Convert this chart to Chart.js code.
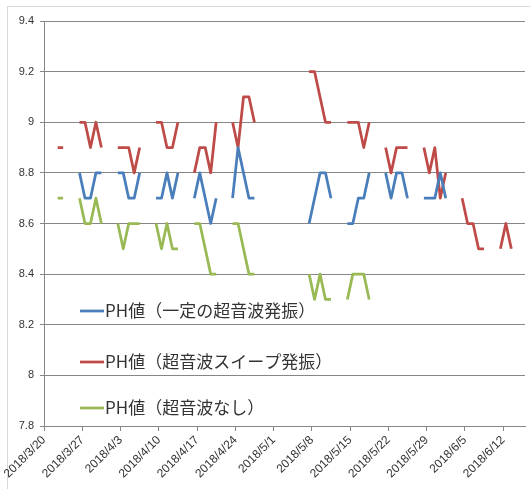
<!DOCTYPE html>
<html>
<head>
<meta charset="utf-8">
<script src="https://cdn.jsdelivr.net/npm/chart.js@4.4.1/dist/chart.umd.min.js"></script>
<style>
    html, body { margin: 0; padding: 0; background: #fff; }
    #wrap { position: relative; width: 530px; height: 489px; overflow: hidden; }
    #frame { position: absolute; left: 7px; top: 6px; width: 540px; height: 500px; border: 1px solid #d9d9d9; box-sizing: border-box; }
    #phChart { position: absolute; left: 0; top: 0; }
</style>
</head>
<body>
<div id="wrap">
    <div id="frame"></div>
    <canvas id="phChart" width="530" height="489"></canvas>
</div>
<script>
// Axis data
const startDate = '2018/3/20';
const endDate = '2018/6/16';
const tickLabels = ['2018/3/20', '2018/3/27', '2018/4/3', '2018/4/10', '2018/4/17', '2018/4/24', '2018/5/1',
    '2018/5/8', '2018/5/15', '2018/5/22', '2018/5/29', '2018/6/5', '2018/6/12'];
const yTicks = [7.8, 8, 8.2, 8.4, 8.6, 8.8, 9, 9.2, 9.4];

// Measurement days (weekdays only)
const dates = [
    '2018/3/22', '2018/3/23',
    '2018/3/26', '2018/3/27', '2018/3/28', '2018/3/29', '2018/3/30',
    '2018/4/2', '2018/4/3', '2018/4/4', '2018/4/5', '2018/4/6',
    '2018/4/9', '2018/4/10', '2018/4/11', '2018/4/12', '2018/4/13',
    '2018/4/16', '2018/4/17', '2018/4/18', '2018/4/19', '2018/4/20',
    '2018/4/23', '2018/4/24', '2018/4/25', '2018/4/26', '2018/4/27',
    '2018/5/7', '2018/5/8', '2018/5/9', '2018/5/10', '2018/5/11',
    '2018/5/14', '2018/5/15', '2018/5/16', '2018/5/17', '2018/5/18',
    '2018/5/21', '2018/5/22', '2018/5/23', '2018/5/24', '2018/5/25',
    '2018/5/28', '2018/5/29', '2018/5/30', '2018/5/31', '2018/6/1',
    '2018/6/4', '2018/6/5', '2018/6/6', '2018/6/7', '2018/6/8',
    '2018/6/11', '2018/6/12', '2018/6/13'
];

const phConstant = [
    null, null,
    8.8, 8.7, 8.7, 8.8, 8.8,
    8.8, 8.8, 8.7, 8.7, 8.8,
    8.7, 8.7, 8.8, 8.7, 8.8,
    8.7, 8.8, 8.7, 8.6, 8.7,
    8.7, 8.9, 8.8, 8.7, 8.7,
    8.6, 8.7, 8.8, 8.8, 8.7,
    8.6, 8.6, 8.7, 8.7, 8.8,
    8.8, 8.7, 8.8, 8.8, 8.7,
    8.7, 8.7, 8.7, 8.8, 8.7,
    null, null, null, null, null,
    null, null, null
];

const phSweep = [
    8.9, 8.9,
    9.0, 9.0, 8.9, 9.0, 8.9,
    8.9, 8.9, 8.9, 8.8, 8.9,
    9.0, 9.0, 8.9, 8.9, 9.0,
    8.8, 8.9, 8.9, 8.8, 9.0,
    9.0, 8.9, 9.1, 9.1, 9.0,
    9.2, 9.2, 9.1, 9.0, 9.0,
    9.0, 9.0, 9.0, 8.9, 9.0,
    8.9, 8.8, 8.9, 8.9, 8.9,
    8.9, 8.8, 8.9, 8.7, 8.8,
    8.7, 8.6, 8.6, 8.5, 8.5,
    8.5, 8.6, 8.5
];

const phNone = [
    8.7, 8.7,
    8.7, 8.6, 8.6, 8.7, 8.6,
    8.6, 8.5, 8.6, 8.6, 8.6,
    8.6, 8.5, 8.6, 8.5, 8.5,
    8.6, 8.6, 8.5, 8.4, 8.4,
    8.6, 8.6, 8.5, 8.4, 8.4,
    8.4, 8.3, 8.4, 8.3, 8.3,
    8.3, 8.4, 8.4, 8.4, 8.3,
    null, null, null, null, null,
    null, null, null, null, null,
    null, null, null, null, null,
    null, null, null
];

const seriesNames = ['PH値（一定の超音波発振）', 'PH値（超音波スイープ発振）', 'PH値（超音波なし）'];
const seriesColors = ['#4A7EBB', '#BE4B48', '#98B954'];

function dayIndex(s) {
    const toUtc = str => {
        const [y, m, d] = str.split('/').map(Number);
        return Date.UTC(y, m - 1, d);
    };
    return Math.round((toUtc(s) - toUtc(startDate)) / 86400000);
}

// Points sit in the middle of their day slot; a null breaks the line over weekends
function buildPoints(values) {
    const pts = [];
    dates.forEach((d, i) => {
        const x = dayIndex(d);
        if (i > 0 && x - dayIndex(dates[i - 1]) > 1) {
            pts.push({ x: x - 1, y: null });
        }
        pts.push({ x: x, y: values[i] });
    });
    return pts;
}

// Legend drawn inside the plot area, like the original
const insideLegend = {
    id: 'insideLegend',
    afterDatasetsDraw(chart) {
        const ctx = chart.ctx;
        const rows = [311, 362, 408];
        ctx.save();
        ctx.font = '17px "Noto Sans CJK JP"';
        ctx.textBaseline = 'middle';
        chart.data.datasets.forEach((ds, i) => {
            const y = rows[i];
            ctx.strokeStyle = ds.borderColor;
            ctx.lineWidth = 2.75;
            ctx.beginPath();
            ctx.moveTo(80, y);
            ctx.lineTo(104, y);
            ctx.stroke();
            ctx.fillStyle = '#333';
            ctx.fillText(ds.label, 105, y);
        });
        ctx.restore();
    }
};

const gridColor = '#868686';
const ctx = document.getElementById('phChart').getContext('2d');

new Chart(ctx, {
    type: 'line',
    data: {
        datasets: [phConstant, phSweep, phNone].map((vals, i) => ({
            label: seriesNames[i],
            data: buildPoints(vals),
            borderColor: seriesColors[i],
            backgroundColor: seriesColors[i],
            borderWidth: 2.75,
            borderJoinStyle: 'round',
            pointRadius: 0,
            tension: 0,
            spanGaps: false
        }))
    },
    options: {
        responsive: false,
        animation: false,
        layout: {
            padding: { top: 21, right: 5, left: 0, bottom: 0 }
        },
        plugins: {
            legend: { display: false },
            tooltip: { enabled: false }
        },
        scales: {
            x: {
                type: 'linear',
                min: -0.5,
                max: dayIndex(endDate) - 0.5,
                afterBuildTicks: scale => {
                    scale.ticks = tickLabels.map(l => ({ value: dayIndex(l) - 0.5 }));
                },
                afterFit: scale => { scale.height = 63; },
                ticks: {
                    autoSkip: false,
                    minRotation: 45,
                    maxRotation: 45,
                    padding: 2,
                    color: '#333',
                    font: { family: 'Liberation Sans', size: 12 },
                    callback: (value, index) => tickLabels[index]
                },
                grid: {
                    drawOnChartArea: false,
                    drawTicks: true,
                    tickLength: 5,
                    color: gridColor
                },
                border: { display: true, color: gridColor }
            },
            y: {
                min: 7.8,
                max: 9.4,
                afterBuildTicks: scale => {
                    scale.ticks = yTicks.map(v => ({ value: v }));
                },
                afterFit: scale => { scale.width = 44; },
                ticks: {
                    padding: 6,
                    color: '#333',
                    font: { family: 'Liberation Sans', size: 11 },
                    callback: value => String(Number(value.toFixed(1)))
                },
                grid: {
                    color: gridColor,
                    tickLength: 4
                },
                border: { display: true, color: gridColor }
            }
        }
    },
    plugins: [insideLegend]
});
</script>
</body>
</html>
